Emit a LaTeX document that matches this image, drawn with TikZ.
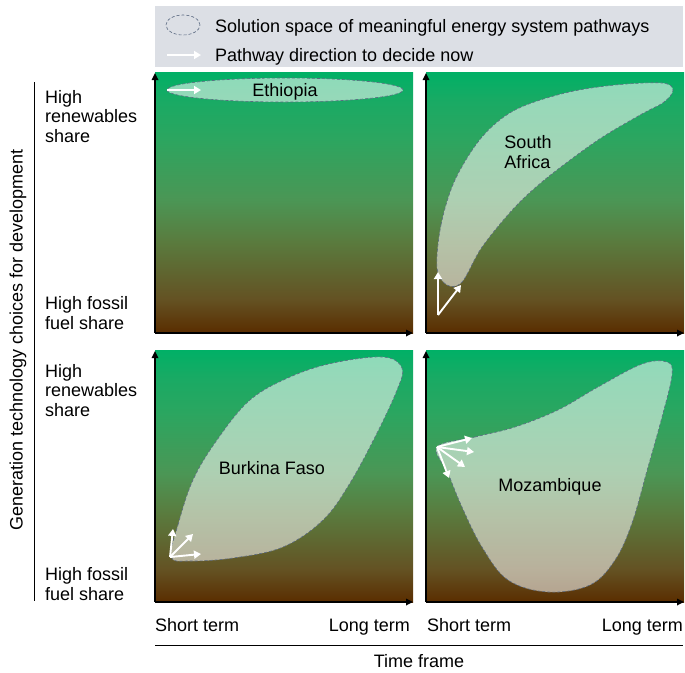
\documentclass[tikz,border=0pt]{standalone}
\usepackage{fontspec}
\setmainfont{Liberation Sans}
\usetikzlibrary{arrows.meta,positioning}

\definecolor{legendgray}{HTML}{DCDFE5}
\definecolor{regionedge}{HTML}{5B6A82}
\definecolor{fossil0}{HTML}{5A2D00}
\definecolor{fossil1}{HTML}{645223}
\definecolor{mixed0}{HTML}{5A7B3E}
\definecolor{mixed1}{HTML}{4B9655}
\definecolor{renew0}{HTML}{2BA660}
\definecolor{renew1}{HTML}{19AA64}
\definecolor{renew2}{HTML}{00B066}

\pgfdeclareverticalshading{energyshade}{100bp}{color(0bp)=(fossil0); color(25bp)=(fossil0); color(31.5bp)=(fossil1); color(42.5bp)=(mixed0); color(50.5bp)=(mixed1); color(62.5bp)=(renew0); color(69.5bp)=(renew1); color(75bp)=(renew2); color(100bp)=(renew2)}

\tikzset{
  axis/.style={draw=black, line width=1.6pt, -{Triangle[length=7pt,width=6.5pt]}},
  pathway/.style={draw=white, line width=1.9pt, -{Triangle[length=7pt,width=8pt]}},
  region/.style={fill=white, fill opacity=0.55, draw=regionedge, dash pattern=on 3pt off 2pt, line width=0.6pt},
  country/.style={inner sep=0pt, align=left},
  sidelabel/.style={anchor=base west, inner sep=0pt, align=left},
  termlabel/.style={inner sep=0pt},
}

\begin{document}
\begin{tikzpicture}[x=1pt, y=-1pt, font=\fontsize{18}{19.5}\selectfont]
\useasboundingbox (0,0) rectangle (685,672);

% legend
\fill[legendgray] (155,6) rectangle (683,67);
\draw[regionedge, dash pattern=on 3pt off 2pt, line width=0.6pt] (183,25) ellipse [x radius=17pt, y radius=10pt];
\node[sidelabel] (legendspace) at (215,32) {Solution space of meaningful energy system pathways};
\coordinate (legendfrom) at (167,55);
\coordinate (legendto) at (201,55);
\draw[pathway] (legendfrom) -- (legendto);
\node[sidelabel] (legendarrow) at (215,61) {Pathway direction to decide now};

% panels
\foreach \x/\y/\h/\n in {155/333/261/a, 426/333/261/b, 155/602/252/c, 426/602/252/d}{
  \shade[shading=energyshade] (\x,\y) rectangle (\x+258,\y-\h);
  \coordinate (o\n) at (\x,\y);
  \coordinate (up\n) at (\x,\y-\h+1);
  \coordinate (right\n) at (\x+258,\y);
  \draw[axis] (o\n) -- (up\n);
  \draw[axis] (o\n) -- (right\n);
}

% Ethiopia
\draw[region] (285,90) ellipse [x radius=118pt, y radius=12pt];
\node[country] (ethiopia) at (285,92) {Ethiopia};
\coordinate (et0) at (167,90);
\coordinate (et1) at (201,90);
\draw[pathway] (et0) -- (et1);

% South Africa
\draw[region] plot[smooth cycle, tension=0.55] coordinates {(437,268) (441,225) (455,180) (482,137) (515,110) (565,93) (615,85) (662,83) (673,90) (664,102) (640,115) (598,140) (548,177) (515,207) (482,247) (462,282) (447,285)};
\node[country] (safrica) at (528,152) {South\\Africa};
\coordinate (sa0) at (438,315);
\coordinate (sa1) at (438,272);
\coordinate (sa2) at (461,285);
\draw[pathway] (sa0) -- (sa1);
\draw[pathway] (sa0) -- (sa2);

% Burkina Faso
\draw[region] plot[smooth cycle, tension=0.6] coordinates {(171,557) (178,525) (193,480) (217,440) (250,400) (290,377) (333,363) (383,357) (402,368) (397,390) (377,433) (350,483) (323,520) (283,547) (233,558) (190,561)};
\node[country] (burkina) at (272,468) {Burkina Faso};
\coordinate (bf0) at (170,557);
\coordinate (bf1) at (173,529);
\coordinate (bf2) at (193,534);
\coordinate (bf3) at (201,554);
\foreach \t in {bf1,bf2,bf3}
  \draw[pathway] (bf0) -- (\t);

% Mozambique
\draw[region] plot[smooth cycle, tension=0.6] coordinates {(437,447) (475,437) (515,427) (558,410) (598,387) (642,364) (667,362) (672,375) (662,417) (648,467) (632,523) (615,560) (590,585) (548,592) (508,580) (482,547) (462,507) (448,473)};
\node[country] (mozambique) at (550,487) {Mozambique};
\coordinate (mz0) at (437,447);
\coordinate (mz1) at (472,438);
\coordinate (mz2) at (474,452);
\coordinate (mz3) at (465,467);
\coordinate (mz4) at (449,478);
\foreach \t in {mz1,mz2,mz3,mz4}
  \draw[pathway] (mz0) -- (\t);

% vertical axis labels (base = last line)
\node[sidelabel] (renewtop) at (45,142) {High\\renewables\\share};
\node[sidelabel] (fossiltop) at (45,329) {High fossil\\fuel share};
\node[sidelabel] (renewbottom) at (45,416) {High\\renewables\\share};
\node[sidelabel] (fossilbottom) at (45,600) {High fossil\\fuel share};
\coordinate (vtop) at (34,82);
\coordinate (vbottom) at (34,601);
\draw[line width=0.8pt] (vtop) -- (vbottom);
\node[rotate=90, inner sep=0pt] (gentech) at (18,340) {Generation technology choices for development};

% horizontal axis labels
\node[termlabel, anchor=base west] (shorta) at (155,631) {Short term};
\node[termlabel, anchor=base east] (longa) at (410,631) {Long term};
\node[termlabel, anchor=base west] (shortb) at (427,631) {Short term};
\node[termlabel, anchor=base east] (longb) at (683,631) {Long term};
\coordinate (hleft) at (155,645);
\coordinate (hright) at (683,645);
\draw[line width=0.8pt] (hleft) -- (hright);
\node[termlabel, anchor=base] (timeframe) at (419,667) {Time frame};
\end{tikzpicture}
\end{document}
